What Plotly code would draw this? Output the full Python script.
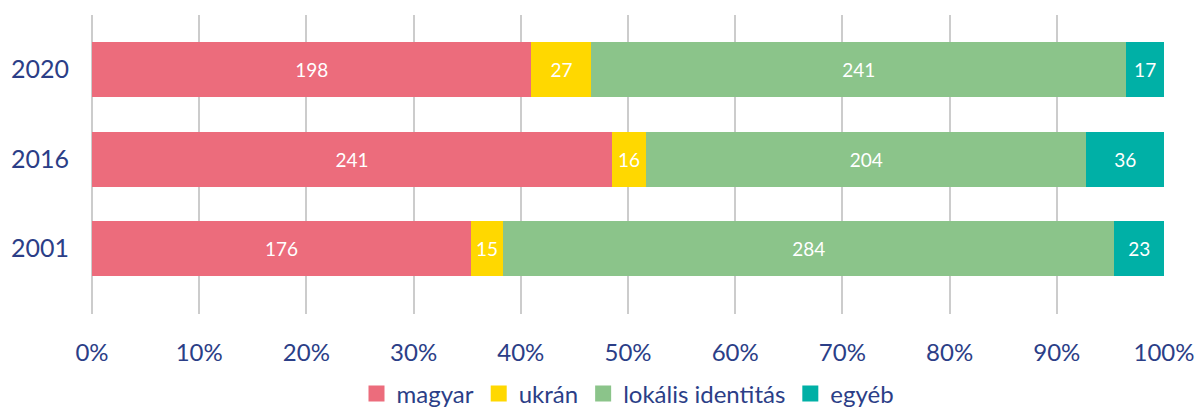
import plotly.graph_objects as go

years = ["2001", "2016", "2020"]
series_names = ["magyar", "ukrán", "lokális identitás", "egyéb"]
magyar = [176, 241, 198]
ukran = [15, 16, 27]
lokalis = [284, 204, 241]
egyeb = [23, 36, 17]
tick_vals = [0, 10, 20, 30, 40, 50, 60, 70, 80, 90, 100]
tick_text = [f"{v}%" for v in tick_vals]

colors = ["#EC6C7C", "#FFD800", "#8BC48A", "#00B0A6"]
text_color = "#2B3E87"
font_family = "Lato"

fig = go.Figure()
for name, vals, col in zip(series_names, [magyar, ukran, lokalis, egyeb], colors):
    fig.add_trace(go.Bar(
        y=years, x=vals, name=name, orientation="h",
        marker=dict(color=col, line=dict(width=0)),
        text=[str(v) for v in vals], textposition="inside",
        insidetextanchor="middle", constraintext="none",
        textfont=dict(color="white", size=19, family=font_family),
        width=0.615, showlegend=False,
    ))
# legend entries with larger square swatches
for name, col in zip(series_names, colors):
    fig.add_trace(go.Scatter(
        x=[None], y=[None], mode="markers", name=name,
        marker=dict(symbol="square", size=16, color=col),
        showlegend=True,
    ))

fig.update_layout(
    barmode="stack", barnorm="percent",
    width=1198, height=409,
    margin=dict(l=92, r=34, t=15, b=95, autoexpand=False),
    paper_bgcolor="white", plot_bgcolor="white",
    font=dict(family=font_family, color=text_color),
    showlegend=True,
    legend=dict(orientation="h", x=0.5, xanchor="center", xref="paper",
                y=(409 - 394) / 409, yanchor="middle", yref="container",
                font=dict(size=24, color=text_color), traceorder="normal",
                itemsizing="trace", itemwidth=30, tracegroupgap=0),
    uniformtext=dict(mode=False),
)
fig.update_xaxes(range=[0, 100], tickvals=tick_vals, ticktext=tick_text,
                 showgrid=True, gridcolor="#CCCCCC", gridwidth=1.5,
                 zeroline=True, zerolinecolor="#CCCCCC", zerolinewidth=1.5,
                 tickfont=dict(size=24, color=text_color), ticks="",
                 ticklabelstandoff=22, fixedrange=True, automargin=False)
fig.update_yaxes(range=[-0.73, 2.61], categoryorder="array", categoryarray=years,
                 showgrid=False, zeroline=False, ticks="",
                 tickfont=dict(size=25, color=text_color),
                 ticklabelstandoff=22, fixedrange=True, automargin=False)

fig.write_html("out.html")
